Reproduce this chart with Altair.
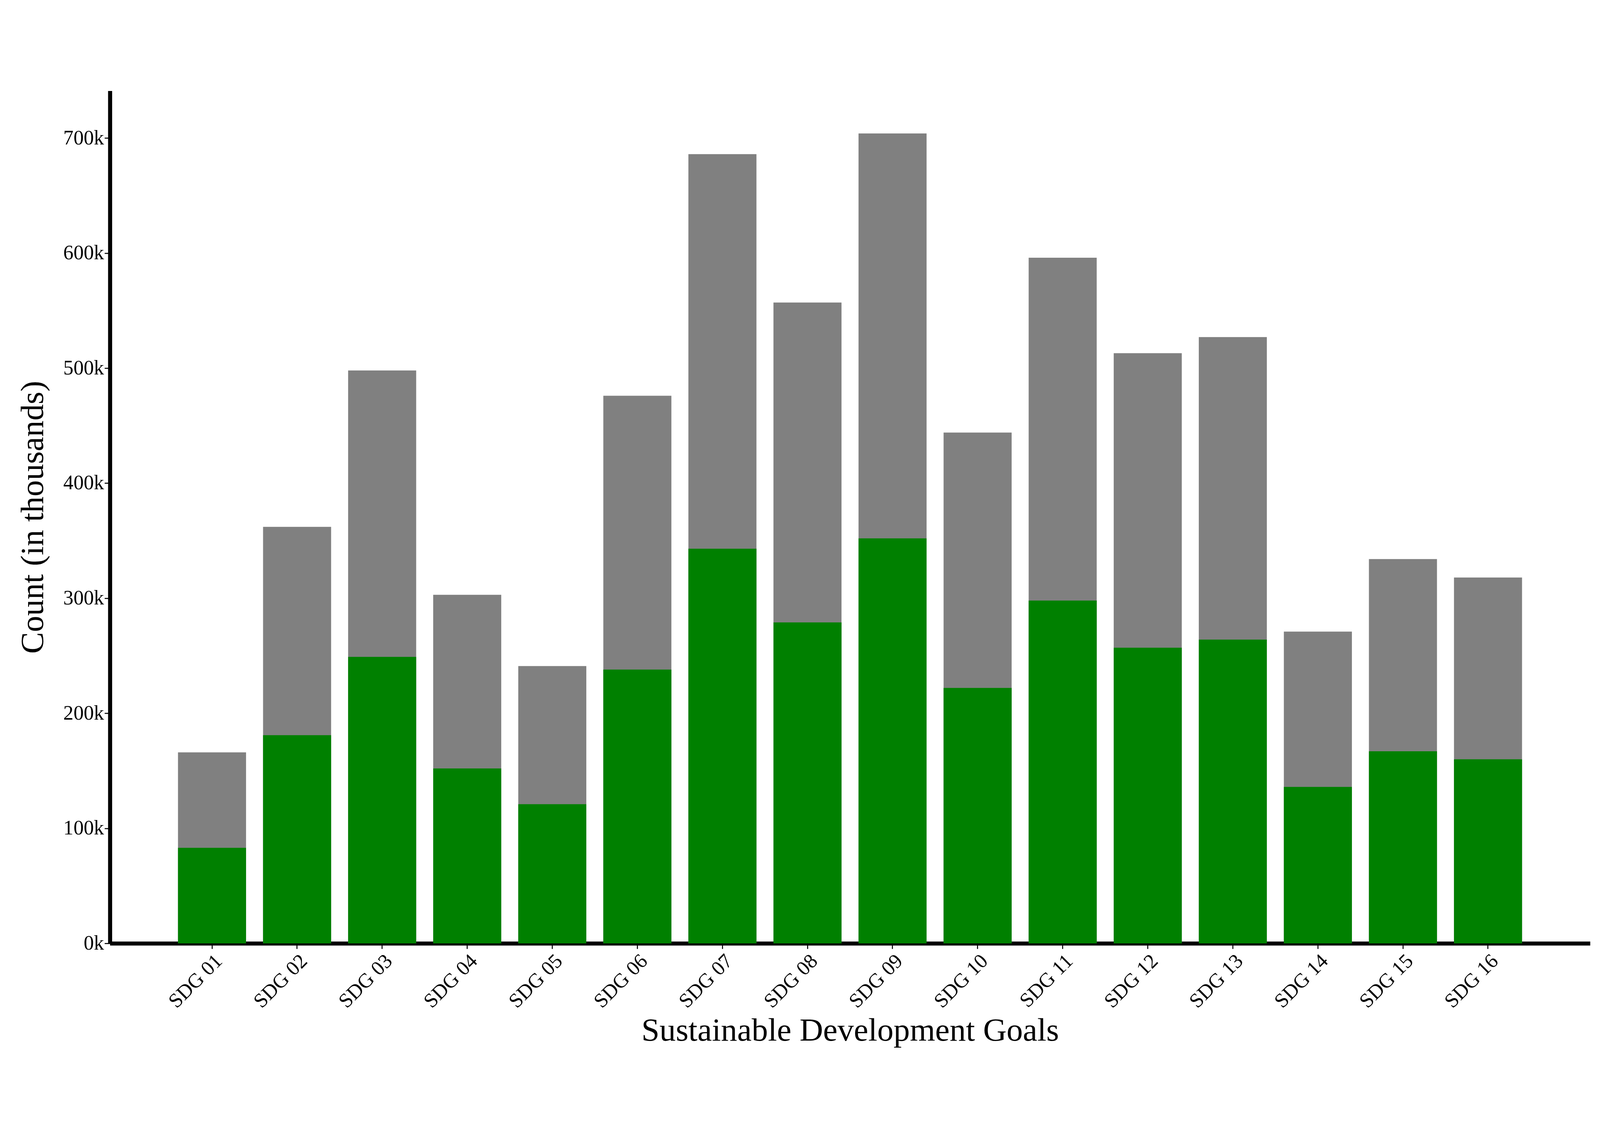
import altair as alt
import pandas as pd

goals = ["SDG %02d" % i for i in range(1, 17)]
total = [166, 362, 498, 303, 241, 476, 686, 557, 704, 444, 596, 513, 527, 271, 334, 318]
green = [83, 181, 249, 152, 121, 238, 343, 279, 352, 222, 298, 257, 264, 136, 167, 160]

df = pd.DataFrame({
    "goal": goals,
    "total": [v * 1000 for v in total],
    "green": [v * 1000 for v in green],
})

font = "Liberation Serif"

x = alt.X("goal:N", title="Sustainable Development Goals",
          scale=alt.Scale(paddingInner=0.2, paddingOuter=0.8),
          axis=alt.Axis(labelAngle=-45, labelAlign="right", labelBaseline="top",
                        labelFontSize=60, titleFontSize=96, titlePadding=10,
                        tickSize=16, tickWidth=3, labelPadding=6, labelLimit=0))
yscale = alt.Scale(domain=[0, 741000], nice=False)
yaxis = alt.Axis(values=list(range(0, 700001, 100000)),
                 labelExpr="datum.value / 1000 + 'k'", grid=False,
                 labelFontSize=60, titleFontSize=96, titlePadding=40,
                 tickSize=16, tickWidth=3)

base = alt.Chart(df)
gray = base.mark_bar(color="#808080").encode(
    x=x, y=alt.Y("total:Q", title="Count (in thousands)", scale=yscale, axis=yaxis))
grn = base.mark_bar(color="#008000").encode(x=x, y=alt.Y("green:Q", scale=yscale))

chart = (gray + grn).properties(
    width=4700, height=2880,
    autosize=alt.AutoSizeParams(type="fit", contains="padding"),
    padding={"left": 40, "top": 40, "right": 20, "bottom": 20},
).configure_axis(
    labelFont=font, titleFont=font, domainWidth=12, domainColor="black",
    tickColor="black", labelColor="black", titleColor="black",
    titleFontWeight="normal",
).configure_view(stroke=None)

chart.save("out.html", embed_options={"renderer": "svg", "actions": False})
